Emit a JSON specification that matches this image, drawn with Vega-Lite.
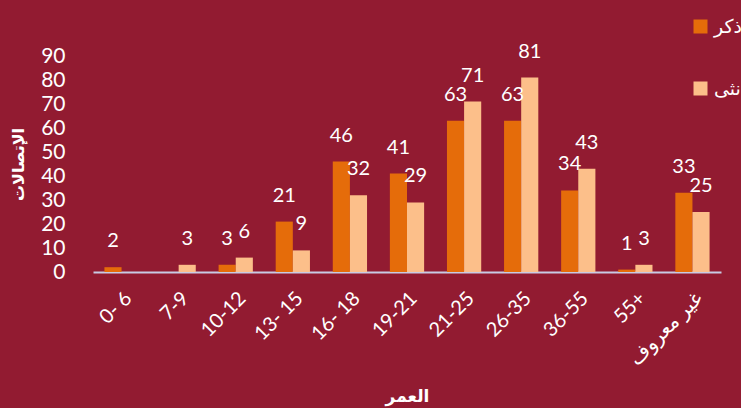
{
  "$schema": "https://vega.github.io/schema/vega-lite/v6.json",
  "autosize": "none",
  "width": 628,
  "height": 216,
  "padding": {"left": 93, "top": 56, "right": 20, "bottom": 136},
  "background": "#921B31",
  "config": {
    "view": {"stroke": null},
    "font": "Lato, DejaVu Sans, sans-serif"
  },
  "data": {
    "values": [
      {"age": "0- 6", "sex": "ذكر", "count": 2},
      {"age": "7-9", "sex": "أنثى", "count": 3},
      {"age": "10-12", "sex": "ذكر", "count": 3},
      {"age": "10-12", "sex": "أنثى", "count": 6},
      {"age": "13- 15", "sex": "ذكر", "count": 21},
      {"age": "13- 15", "sex": "أنثى", "count": 9},
      {"age": "16- 18", "sex": "ذكر", "count": 46},
      {"age": "16- 18", "sex": "أنثى", "count": 32},
      {"age": "19-21", "sex": "ذكر", "count": 41},
      {"age": "19-21", "sex": "أنثى", "count": 29},
      {"age": "21-25", "sex": "ذكر", "count": 63},
      {"age": "21-25", "sex": "أنثى", "count": 71},
      {"age": "26-35", "sex": "ذكر", "count": 63},
      {"age": "26-35", "sex": "أنثى", "count": 81},
      {"age": "36-55", "sex": "ذكر", "count": 34},
      {"age": "36-55", "sex": "أنثى", "count": 43},
      {"age": "55+", "sex": "ذكر", "count": 1},
      {"age": "55+", "sex": "أنثى", "count": 3},
      {"age": "غير معروف", "sex": "ذكر", "count": 33},
      {"age": "غير معروف", "sex": "أنثى", "count": 25}
    ]
  },
  "encoding": {
    "x": {
      "field": "age",
      "type": "nominal",
      "sort": ["0- 6", "7-9", "10-12", "13- 15", "16- 18", "19-21", "21-25", "26-35", "36-55", "55+", "غير معروف"],
      "scale": {"paddingInner": 0.4, "paddingOuter": 0.2},
      "axis": {
        "title": "العمر",
        "titleColor": "white",
        "titleFontSize": 17,
        "titleFontWeight": "bold",
        "titleY": 116,
        "titleBaseline": "top",
        "labelAngle": -45,
        "labelColor": "white",
        "labelFontSize": 20,
        "labelPadding": 16,
        "ticks": false,
        "domainColor": "#C8CBE4",
        "domainWidth": 2
      }
    },
    "xOffset": {
      "field": "sex",
      "type": "nominal",
      "sort": ["ذكر", "أنثى"]
    },
    "y": {
      "field": "count",
      "type": "quantitative",
      "scale": {"domain": [0, 90], "nice": false},
      "axis": {
        "title": "الإتصالات",
        "titleColor": "white",
        "titleFontSize": 16,
        "titleFontWeight": "bold",
        "titleX": -75,
        "titleBaseline": "middle",
        "values": [0, 10, 20, 30, 40, 50, 60, 70, 80, 90],
        "labelColor": "white",
        "labelFontSize": 21,
        "labelPadding": 28,
        "ticks": false,
        "domain": false,
        "grid": false
      }
    }
  },
  "layer": [
    {
      "mark": {"type": "bar"},
      "encoding": {
        "color": {
          "field": "sex",
          "type": "nominal",
          "sort": ["ذكر", "أنثى"],
          "scale": {"domain": ["ذكر", "أنثى"], "range": ["#E56C0A", "#FCBF8A"]},
          "legend": {
            "title": null,
            "orient": "none",
            "legendX": 598,
            "legendY": -39,
            "symbolType": "square",
            "symbolSize": 196,
            "symbolStrokeWidth": 0,
            "symbolOpacity": 1,
            "labelColor": "white",
            "labelFontSize": 19,
            "labelOffset": 4,
            "rowPadding": 42
          }
        }
      }
    },
    {
      "mark": {"type": "text", "baseline": "bottom", "dy": -16, "fontSize": 20, "color": "white"},
      "encoding": {
        "text": {"field": "count", "type": "quantitative"}
      }
    }
  ]
}
